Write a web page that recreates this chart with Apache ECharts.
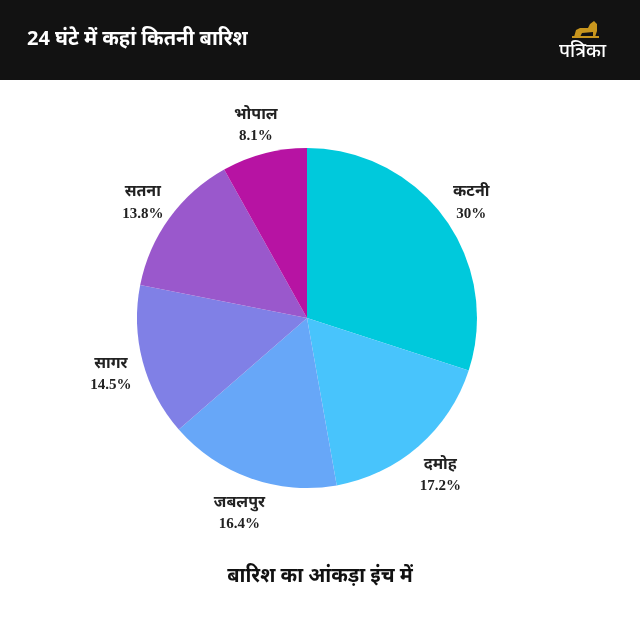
<!DOCTYPE html>
<html><head><meta charset="utf-8">
<script src="https://cdn.jsdelivr.net/npm/echarts@6/dist/echarts.min.js"></script>
<style>html,body{margin:0;padding:0;background:#fff}#c{width:640px;height:640px}</style>
</head><body><div id="c"></div>
<script>
const categories = ['कटनी', 'दमोह', 'जबलपुर', 'सागर', 'सतना', 'भोपाल'];
const values = [30, 17.2, 16.4, 14.5, 13.8, 8.1];
const labels = ['30%', '17.2%', '16.4%', '14.5%', '13.8%', '8.1%'];
const colors = ['#00c9dc', '#48c4fc', '#67a7f8', '#8080e6', '#9a58cc', '#b713a3'];
const title = '24 घंटे में कहां कितनी बारिश';
const footer = 'बारिश का आंकड़ा इंच में';
const brand = 'पत्रिका';

const chart = echarts.init(document.getElementById('c'), null, {renderer: 'canvas'});
chart.setOption({
  backgroundColor: '#fff',
  animation: false,
  graphic: [
    {type: 'rect', left: 0, top: 0, shape: {width: 640, height: 80}, style: {fill: '#121212'}},
    {type: 'text', left: 27, top: 29, style: {text: title, fill: '#fff', font: 'bold 20px "Noto Sans", sans-serif'}},
    {type: 'polygon', shape: {points: [[574,37],[576,30],[580,28],[588,28],[590,24],[594,21],[597,24],[597,31],[595,37],[593,37],[593,32],[582,33],[580,37]]}, style: {fill: '#c8961e'}},
    {type: 'rect', shape: {x: 572, y: 36, width: 27, height: 2}, style: {fill: '#c8961e'}},
    {type: 'text', left: 559, top: 42, style: {text: brand, fill: '#fff', font: '500 19px "Noto Sans", sans-serif'}},
    {type: 'text', left: 'center', top: 566, style: {text: footer, fill: '#111', font: 'bold 20px "Noto Sans", sans-serif'}}
  ],
  series: [{
    type: 'pie',
    center: [307, 318],
    radius: 170,
    startAngle: 90,
    clockwise: true,
    silent: true,
    data: categories.map((n, i) => ({name: n, value: values[i], itemStyle: {color: colors[i]}})),
    label: {show: false},
    labelLine: {show: false},
    itemStyle: {borderWidth: 0}
  }, {
    type: 'pie',
    center: [307, 322],
    radius: [0, 400],
    startAngle: 90,
    clockwise: true,
    silent: true,
    z: 3,
    data: categories.map((n, i) => ({name: n, value: values[i], label: {formatter: '{n|' + n + '}\n{v|' + labels[i] + '}'}})),
    itemStyle: {color: 'rgba(0,0,0,0)', borderWidth: 0},
    label: {
      show: true, position: 'inside', rotate: 0, align: 'center',
      rich: {
        n: {color: '#222', fontSize: 16, fontWeight: 'bold', fontFamily: '"Noto Sans", sans-serif', lineHeight: 22, align: 'center'},
        v: {color: '#222', fontSize: 15, fontWeight: 'bold', fontFamily: '"Liberation Serif", serif', lineHeight: 22, align: 'center'}
      }
    },
    labelLine: {show: false}
  }]
});
</script></body></html>
